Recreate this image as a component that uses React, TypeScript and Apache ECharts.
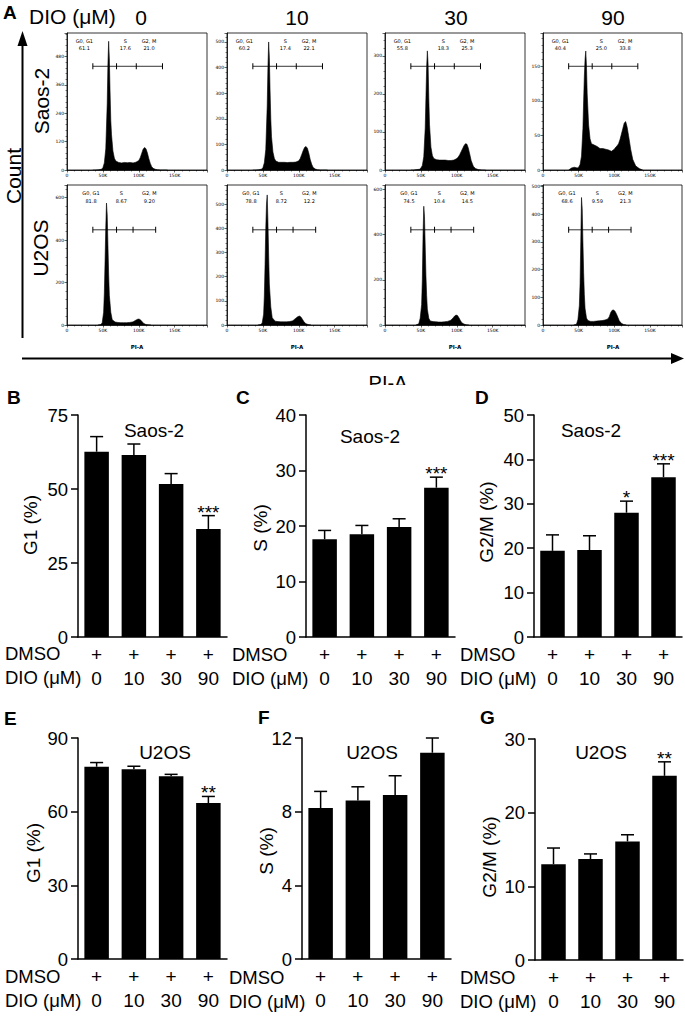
import React, { useEffect, useRef } from 'react';
import * as echarts from 'echarts';

const FONT = "'Liberation Sans', Arial, Helvetica, sans-serif";
const SMALL = "'DejaVu Sans', sans-serif";

// ---------- Panel A: flow cytometry histograms ----------
const doses = ['0', '10', '30', '90'];
const cellLines = ['Saos-2', 'U2OS'];

// PI-A bins (in K) and counts
const xSaos = [36, 40, 44, 48, 50, 52, 54, 56, 57, 58, 59, 60, 61, 62, 64, 66, 68, 72, 76, 80, 84, 88, 92, 96, 100, 102, 104, 106, 108, 110, 112, 114, 116, 118, 120, 123, 126, 130, 135, 140];
const saos0 = [0, 0, 1, 3, 10, 30, 90, 280, 450, 545, 470, 330, 210, 150, 80, 50, 38, 32, 30, 32, 31, 32, 30, 33, 40, 52, 70, 88, 95, 90, 72, 48, 28, 14, 7, 3, 1, 0, 0, 0];
const saos10 = [0, 0, 1, 3, 9, 28, 80, 250, 400, 500, 440, 310, 200, 130, 70, 45, 35, 30, 30, 30, 29, 30, 30, 31, 36, 45, 60, 75, 88, 92, 85, 65, 40, 22, 10, 4, 1, 0, 0, 0];
const saos30 = [0, 0, 1, 2, 5, 12, 35, 110, 190, 270, 313, 280, 190, 120, 60, 38, 30, 27, 26, 26, 26, 25, 25, 26, 30, 34, 40, 48, 56, 64, 69, 68, 58, 42, 25, 10, 4, 1, 0, 0];
const saos90 = [0, 3, 4, 3, 4, 8, 20, 60, 100, 135, 160, 172, 150, 110, 65, 45, 38, 36, 34, 31, 31, 30, 29, 27, 30, 33, 35, 38, 44, 52, 60, 68, 70, 62, 50, 30, 15, 6, 2, 0];

const xU2os = [43, 47, 49, 51, 52, 53, 54, 55, 56, 57, 58, 59, 61, 63, 67, 71, 75, 79, 83, 87, 91, 93, 95, 97, 99, 101, 103, 105, 107, 110, 113, 117];
const u2os0 = [0, 2, 10, 60, 150, 300, 460, 575, 520, 380, 240, 140, 60, 25, 14, 12, 11, 11, 11, 12, 14, 17, 21, 25, 28, 27, 22, 14, 7, 2, 1, 0];
const u2os10 = [0, 2, 8, 45, 120, 250, 400, 500, 539, 430, 290, 170, 75, 30, 16, 14, 13, 13, 13, 14, 17, 21, 26, 31, 35, 37, 33, 24, 14, 5, 2, 0];
const u2os30 = [0, 5, 30, 90, 200, 400, 526, 480, 350, 220, 130, 70, 30, 18, 15, 14, 13, 13, 14, 16, 20, 25, 32, 40, 44, 42, 32, 20, 10, 4, 1, 0];
const u2os90 = [0, 3, 20, 70, 150, 300, 460, 420, 300, 190, 110, 60, 25, 16, 13, 13, 14, 15, 16, 18, 22, 30, 45, 53, 54, 50, 40, 28, 15, 6, 2, 0];

const saosYMax = [580, 535, 360, 198];
const saosYStep = [120, 100, 100, 50];
const u2osYMax = [660, 580, 620, 505];
const u2osYStep = [200, 100, 200, 100];

const saosGates = [36, 69, 96.5, 133];
const u2osGates = [36, 69, 92, 123.5];

const gateNames = ['G0, G1', 'S', 'G2, M'];
const saosPct = [['61.1', '17.6', '21.0'], ['60.2', '17.4', '22.1'], ['55.8', '18.3', '25.3'], ['40.4', '25.0', '33.8']];
const u2osPct = [['81.8', '8.67', '9.20'], ['78.8', '8.72', '12.2'], ['74.5', '10.4', '14.5'], ['68.6', '9.59', '21.3']];

// ---------- Panels B-G: bar charts ----------
const barCats = ['0', '10', '30', '90'];
const g1Saos = [62.6, 61.5, 51.7, 36.5];
const g1SaosUp = [67.7, 65.2, 55.2, 41.0];
const g1SaosSig = ['', '', '', '***'];
const sSaos = [17.6, 18.5, 19.8, 26.9];
const sSaosUp = [19.2, 20.1, 21.3, 28.8];
const sSaosSig = ['', '', '', '***'];
const g2mSaos = [19.4, 19.6, 28.0, 36.0];
const g2mSaosUp = [23.0, 22.8, 30.6, 39.0];
const g2mSaosSig = ['', '', '*', '***'];
const g1U2os = [78.3, 77.3, 74.4, 63.5];
const g1U2osUp = [80.0, 78.5, 75.2, 66.2];
const g1U2osSig = ['', '', '', '**'];
const sU2os = [8.2, 8.6, 8.9, 11.2];
const sU2osUp = [9.1, 9.35, 9.95, 12.0];
const sU2osSig = ['', '', '', ''];
const g2mU2os = [13.0, 13.7, 16.1, 25.0];
const g2mU2osUp = [15.2, 14.4, 17.0, 26.9];
const g2mU2osSig = ['', '', '', '**'];

function txt(text: string, x: number, y: number, o: any = {}) {
  const align = o.align || 'center';
  return {
    type: 'text',
    x,
    y,
    rotation: o.rot || 0,
    z: o.z || 10,
    style: {
      text,
      fontSize: o.size || 19,
      fontFamily: o.family || FONT,
      fontWeight: o.bold ? 'bold' : 'normal',
      fill: '#000',
      align,
      textAlign: align,
      verticalAlign: 'middle',
      textVerticalAlign: 'middle',
    },
  };
}

function buildOption() {
  const grids: any[] = [];
  const xAxes: any[] = [];
  const yAxes: any[] = [];
  const series: any[] = [];
  const graphic: any[] = [];

  // ----- histograms -----
  const colLefts = [67, 227, 385, 543];
  const rowTops = [33, 185];
  const rowHeights = [137, 140];
  const histData = [
    { xs: xSaos, counts: [saos0, saos10, saos30, saos90], ymax: saosYMax, step: saosYStep, gates: saosGates, gateFrac: 0.757, pct: saosPct, lblX: [17.3, 58.3, 82], lblY: 8.3, valY: 14.5 },
    { xs: xU2os, counts: [u2os0, u2os10, u2os30, u2os90], ymax: u2osYMax, step: u2osYStep, gates: u2osGates, gateFrac: 0.68, pct: u2osPct, lblX: [24, 54.3, 82.3], lblY: 8.3, valY: 15.7 },
  ];
  histData.forEach((row, r) => {
    for (let c = 0; c < 4; c++) {
      const gi = grids.length;
      const left = colLefts[c];
      const top = rowTops[r];
      grids.push({ left, top, width: 140, height: rowHeights[r], show: true, borderColor: '#000', borderWidth: 0.8, backgroundColor: 'transparent' });
      xAxes.push({
        gridIndex: gi, type: 'value', min: 0, max: 195000, interval: 50000,
        axisLine: { show: true, lineStyle: { color: '#000', width: 0.8 } },
        axisTick: { show: true, length: 2.5, lineStyle: { color: '#000', width: 0.6 } },
        minorTick: { show: true, splitNumber: 5, length: 1.5, lineStyle: { color: '#000', width: 0.5 } },
        splitLine: { show: false },
        axisLabel: { fontSize: 4.5, margin: 3, color: '#000', fontFamily: SMALL, formatter: (v: number) => (v % 50000 ? '' : v === 0 ? '0' : v / 1000 + 'K') },
      });
      const step = row.step[c];
      yAxes.push({
        gridIndex: gi, type: 'value', min: 0, max: row.ymax[c], interval: step,
        axisLine: { show: true, lineStyle: { color: '#000', width: 0.8 } },
        axisTick: { show: true, length: 2.5, lineStyle: { color: '#000', width: 0.6 } },
        minorTick: { show: true, splitNumber: 5, length: 1.5, lineStyle: { color: '#000', width: 0.5 } },
        splitLine: { show: false },
        axisLabel: { fontSize: 4.5, margin: 3, color: '#000', fontFamily: SMALL, formatter: (v: number) => (v % step ? '' : String(v)) },
      });
      series.push({
        type: 'line', xAxisIndex: gi, yAxisIndex: gi, silent: true,
        data: row.xs.map((x, i) => [x * 1000, row.counts[c][i]]),
        symbol: 'none', lineStyle: { color: '#000', width: 0.6 }, areaStyle: { color: '#000', opacity: 1 },
      });
      const gy = row.gateFrac * row.ymax[c];
      series.push({
        type: 'line', xAxisIndex: gi, yAxisIndex: gi, silent: true, z: 5,
        data: row.gates.map((g) => [g * 1000, gy]),
        symbol: 'rect', symbolSize: [1, 6], itemStyle: { color: '#000' }, lineStyle: { color: '#000', width: 0.8 },
      });
      gateNames.forEach((nm, k) => {
        graphic.push(txt(nm, left + row.lblX[k], top + row.lblY, { size: 5, family: SMALL }));
        graphic.push(txt(row.pct[c][k], left + row.lblX[k], top + row.valY, { size: 5, family: SMALL }));
      });
      if (r === 1) graphic.push(txt('PI-A', left + 70, 347, { size: 5.5, family: SMALL, bold: true }));
    }
  });

  // ----- bar panels -----
  const panels = [
    { letter: 'B', lx: 7, ly: 397, left: 78, top: 415, width: 149, height: 222, max: 75, step: 25, title: 'Saos-2', tx: 154, ty: 430, ylab: 'G1 (%)', yx: 30, yy: 525, rowX: 5, rowY: 653, mean: g1Saos, up: g1SaosUp, sig: g1SaosSig },
    { letter: 'C', lx: 236, ly: 397, left: 306, top: 415, width: 149, height: 222, max: 40, step: 10, title: 'Saos-2', tx: 370, ty: 436, ylab: 'S (%)', yx: 260, yy: 528, rowX: 232, rowY: 654, mean: sSaos, up: sSaosUp, sig: sSaosSig },
    { letter: 'D', lx: 475, ly: 397, left: 534, top: 415, width: 148, height: 222, max: 50, step: 10, title: 'Saos-2', tx: 591, ty: 430, ylab: 'G2/M (%)', yx: 486, yy: 522, rowX: 460, rowY: 654, mean: g2mSaos, up: g2mSaosUp, sig: g2mSaosSig },
    { letter: 'E', lx: 4, ly: 718, left: 78, top: 738, width: 149, height: 221, max: 90, step: 30, title: 'U2OS', tx: 165, ty: 752, ylab: 'G1 (%)', yx: 33, yy: 853, rowX: 5, rowY: 976, mean: g1U2os, up: g1U2osUp, sig: g1U2osSig },
    { letter: 'F', lx: 258, ly: 717, left: 302, top: 738, width: 149, height: 221, max: 12, step: 4, title: 'U2OS', tx: 372, ty: 752, ylab: 'S (%)', yx: 266, yy: 851, rowX: 229, rowY: 977, mean: sU2os, up: sU2osUp, sig: sU2osSig },
    { letter: 'G', lx: 480, ly: 717, left: 535, top: 739, width: 148, height: 221, max: 30, step: 10, title: 'U2OS', tx: 601, ty: 752, ylab: 'G2/M (%)', yx: 489, yy: 857, rowX: 460, rowY: 977, mean: g2mU2os, up: g2mU2osUp, sig: g2mU2osSig },
  ];
  panels.forEach((p) => {
    const gi = grids.length;
    grids.push({ left: p.left, top: p.top, width: p.width, height: p.height });
    xAxes.push({
      gridIndex: gi, type: 'category', data: barCats,
      axisLine: { show: true, lineStyle: { color: '#000', width: 1.5 } },
      axisTick: { show: false },
      axisLabel: { interval: 0, fontSize: 19, lineHeight: 24, margin: 5, color: '#000', fontFamily: FONT, formatter: (v: string) => '+\n' + v },
    });
    yAxes.push({
      gridIndex: gi, type: 'value', min: 0, max: p.max, interval: p.step,
      axisLine: { show: true, lineStyle: { color: '#000', width: 1.5 } },
      axisTick: { show: true, length: 7, inside: false, lineStyle: { color: '#000', width: 1.5 } },
      splitLine: { show: false },
      axisLabel: { fontSize: 18.5, margin: 10, color: '#000', fontFamily: FONT },
    });
    series.push({ type: 'bar', xAxisIndex: gi, yAxisIndex: gi, data: p.mean, barWidth: 24.5, itemStyle: { color: '#000' }, silent: true });
    const sig = p.sig;
    series.push({
      type: 'custom', xAxisIndex: gi, yAxisIndex: gi, z: 5, silent: true,
      data: p.mean.map((m, i) => [i, m, p.up[i]]),
      renderItem: (params: any, api: any) => {
        const i = api.value(0);
        const base = api.coord([i, api.value(1)]);
        const top = api.coord([i, api.value(2)]);
        const children: any[] = [
          { type: 'line', shape: { x1: top[0], y1: base[1], x2: top[0], y2: top[1] }, style: { stroke: '#000', lineWidth: 1.5 } },
          { type: 'line', shape: { x1: top[0] - 6.5, y1: top[1], x2: top[0] + 6.5, y2: top[1] }, style: { stroke: '#000', lineWidth: 1.5 } },
        ];
        if (sig[i]) {
          children.push({
            type: 'text', x: top[0], y: top[1] + 6,
            style: { text: sig[i], fontSize: 19, fontFamily: FONT, fill: '#000', align: 'center', textAlign: 'center', verticalAlign: 'bottom', textVerticalAlign: 'bottom' },
          });
        }
        return { type: 'group', children };
      },
    });
    graphic.push(txt(p.letter, p.lx, p.ly, { size: 19, bold: true, align: 'left' }));
    graphic.push(txt(p.title, p.tx, p.ty, { size: 19 }));
    graphic.push(txt(p.ylab, p.yx, p.yy, { size: 19, rot: Math.PI / 2 }));
    graphic.push(txt('DMSO', p.rowX, p.rowY, { size: 18.5, align: 'left' }));
    graphic.push(txt('DIO (\u03bcM)', p.rowX, p.rowY + 24, { size: 18.5, align: 'left' }));
  });

  // ----- panel A decorations -----
  graphic.push(txt('A', 3, 12, { size: 19, bold: true, align: 'left' }));
  graphic.push(txt('DIO (\u03bcM)', 29, 16, { size: 21, align: 'left' }));
  const doseX = [141, 297, 456, 613];
  doses.forEach((d, i) => graphic.push(txt(d, doseX[i], 17, { size: 21 })));
  graphic.push(txt(cellLines[0], 41, 101, { size: 21, rot: Math.PI / 2 }));
  graphic.push(txt(cellLines[1], 40, 248, { size: 21, rot: Math.PI / 2 }));
  graphic.push(txt('Count', 13, 176, { size: 21, rot: Math.PI / 2 }));
  graphic.push({ type: 'line', z: 10, shape: { x1: 22.5, y1: 338, x2: 22.5, y2: 42 }, style: { stroke: '#000', lineWidth: 2 } });
  graphic.push({ type: 'polygon', z: 10, shape: { points: [[22.5, 31], [17.5, 46], [27.5, 46]] }, style: { fill: '#000' } });
  graphic.push({ type: 'line', z: 10, shape: { x1: 22, y1: 358.5, x2: 674, y2: 358.5 }, style: { stroke: '#000', lineWidth: 2 } });
  graphic.push({ type: 'polygon', z: 10, shape: { points: [[684, 358.5], [671, 353], [671, 364]] }, style: { fill: '#000' } });
  graphic.push(txt('PI-A', 388, 383, { size: 20 }));
  graphic.push({ type: 'rect', z: 11, shape: { x: 355, y: 385, width: 70, height: 12 }, style: { fill: '#fff' } });

  return {
    animation: false,
    backgroundColor: '#fff',
    textStyle: { fontFamily: FONT },
    grid: grids,
    xAxis: xAxes,
    yAxis: yAxes,
    series,
    graphic,
  };
}

export default function App() {
  const ref = useRef<HTMLDivElement>(null);
  useEffect(() => {
    const chart = echarts.init(ref.current as HTMLDivElement, null, { renderer: 'svg', width: 685, height: 1030 });
    chart.setOption(buildOption() as any);
    return () => chart.dispose();
  }, []);
  return <div ref={ref} style={{ position: 'absolute', left: 0, top: 0, width: 685, height: 1030, background: '#fff' }} />;
}
